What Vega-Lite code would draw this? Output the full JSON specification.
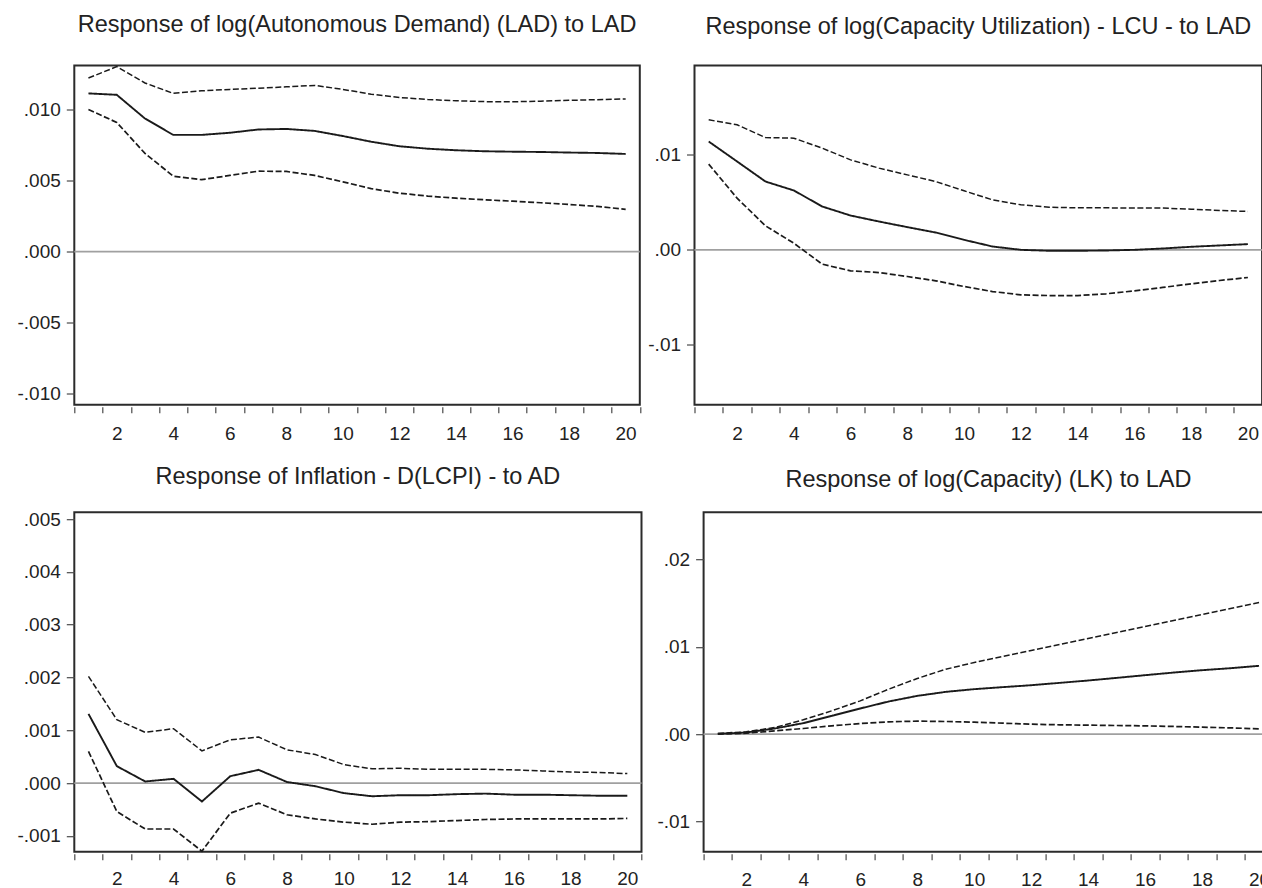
{
  "$schema": "https://vega.github.io/schema/vega-lite/v6.json",
  "background": "white",
  "padding": {"left": 15.3, "top": 11.5, "right": 0, "bottom": 0},
  "config": {
    "font": "Liberation Sans",
    "view": {"stroke": "#2b2b2b", "strokeWidth": 2},
    "axis": {"labelFont": "Liberation Sans", "labelFontSize": 19, "labelColor": "#222", "tickColor": "#4a4a4a", "tickWidth": 1.2, "grid": false, "domain": false},
    "axisX": {"offset": 2, "tickSize": 6, "labelFlush": false, "labelOverlap": false, "labelPadding": 11.5, "labelOffset": 14.2},
    "axisY": {"tickSize": 8, "labelPadding": 6, "labelOverlap": false},
    "title": {"font": "Liberation Sans", "fontSize": 23.5, "fontWeight": "normal", "color": "#222", "anchor": "middle", "frame": "group"}
  },
  "datasets": {
    "lad": [
      {"h": 1, "irf": 0.01112, "lo": 0.00998, "hi": 0.01220},
      {"h": 2, "irf": 0.01102, "lo": 0.00908, "hi": 0.01300},
      {"h": 3, "irf": 0.00935, "lo": 0.00690, "hi": 0.01185},
      {"h": 4, "irf": 0.00820, "lo": 0.00530, "hi": 0.01112},
      {"h": 5, "irf": 0.00820, "lo": 0.00505, "hi": 0.01130},
      {"h": 6, "irf": 0.00835, "lo": 0.00535, "hi": 0.01140},
      {"h": 7, "irf": 0.00858, "lo": 0.00565, "hi": 0.01148},
      {"h": 8, "irf": 0.00862, "lo": 0.00563, "hi": 0.01158},
      {"h": 9, "irf": 0.00848, "lo": 0.00535, "hi": 0.01168},
      {"h": 10, "irf": 0.00812, "lo": 0.00490, "hi": 0.01140},
      {"h": 11, "irf": 0.00772, "lo": 0.00442, "hi": 0.01106},
      {"h": 12, "irf": 0.00740, "lo": 0.00410, "hi": 0.01083},
      {"h": 13, "irf": 0.00723, "lo": 0.00390, "hi": 0.01069},
      {"h": 14, "irf": 0.00712, "lo": 0.00375, "hi": 0.01060},
      {"h": 15, "irf": 0.00705, "lo": 0.00364, "hi": 0.01054},
      {"h": 16, "irf": 0.00702, "lo": 0.00354, "hi": 0.01053},
      {"h": 17, "irf": 0.00700, "lo": 0.00343, "hi": 0.01057},
      {"h": 18, "irf": 0.00696, "lo": 0.00331, "hi": 0.01063},
      {"h": 19, "irf": 0.00693, "lo": 0.00317, "hi": 0.01068},
      {"h": 20, "irf": 0.00686, "lo": 0.00297, "hi": 0.01073}
    ],
    "lcu": [
      {"h": 1, "irf": 0.01140, "lo": 0.00902, "hi": 0.01368},
      {"h": 2, "irf": 0.00930, "lo": 0.00544, "hi": 0.01316},
      {"h": 3, "irf": 0.00719, "lo": 0.00253, "hi": 0.01182},
      {"h": 4, "irf": 0.00625, "lo": 0.00070, "hi": 0.01175},
      {"h": 5, "irf": 0.00456, "lo": -0.00151, "hi": 0.01070},
      {"h": 6, "irf": 0.00361, "lo": -0.00221, "hi": 0.00947},
      {"h": 7, "irf": 0.00298, "lo": -0.00239, "hi": 0.00860},
      {"h": 8, "irf": 0.00239, "lo": -0.00281, "hi": 0.00789},
      {"h": 9, "irf": 0.00182, "lo": -0.00326, "hi": 0.00719},
      {"h": 10, "irf": 0.00105, "lo": -0.00386, "hi": 0.00621},
      {"h": 11, "irf": 0.00035, "lo": -0.00439, "hi": 0.00526},
      {"h": 12, "irf": 0.00000, "lo": -0.00474, "hi": 0.00474},
      {"h": 13, "irf": -0.00010, "lo": -0.00481, "hi": 0.00449},
      {"h": 14, "irf": -0.00010, "lo": -0.00481, "hi": 0.00442},
      {"h": 15, "irf": -0.00007, "lo": -0.00463, "hi": 0.00442},
      {"h": 16, "irf": 0.00000, "lo": -0.00432, "hi": 0.00439},
      {"h": 17, "irf": 0.00014, "lo": -0.00396, "hi": 0.00439},
      {"h": 18, "irf": 0.00032, "lo": -0.00358, "hi": 0.00428},
      {"h": 19, "irf": 0.00046, "lo": -0.00323, "hi": 0.00414},
      {"h": 20, "irf": 0.00060, "lo": -0.00291, "hi": 0.00404}
    ],
    "lcpi": [
      {"h": 1, "irf": 0.00131, "lo": 0.00060, "hi": 0.00202},
      {"h": 2, "irf": 0.00032, "lo": -0.00054, "hi": 0.00120},
      {"h": 3, "irf": 0.00003, "lo": -0.00087, "hi": 0.00096},
      {"h": 4, "irf": 0.00008, "lo": -0.00087, "hi": 0.00103},
      {"h": 5, "irf": -0.00035, "lo": -0.00129, "hi": 0.00061},
      {"h": 6, "irf": 0.00013, "lo": -0.00057, "hi": 0.00082},
      {"h": 7, "irf": 0.00025, "lo": -0.00038, "hi": 0.00087},
      {"h": 8, "irf": 0.00002, "lo": -0.00060, "hi": 0.00063},
      {"h": 9, "irf": -0.00006, "lo": -0.00068, "hi": 0.00054},
      {"h": 10, "irf": -0.00019, "lo": -0.00074, "hi": 0.00035},
      {"h": 11, "irf": -0.00025, "lo": -0.00078, "hi": 0.00027},
      {"h": 12, "irf": -0.00023, "lo": -0.00074, "hi": 0.00028},
      {"h": 13, "irf": -0.00023, "lo": -0.00073, "hi": 0.00026},
      {"h": 14, "irf": -0.00021, "lo": -0.00071, "hi": 0.00026},
      {"h": 15, "irf": -0.00020, "lo": -0.00069, "hi": 0.00026},
      {"h": 16, "irf": -0.00022, "lo": -0.00068, "hi": 0.00025},
      {"h": 17, "irf": -0.00022, "lo": -0.00068, "hi": 0.00023},
      {"h": 18, "irf": -0.00023, "lo": -0.00068, "hi": 0.00021},
      {"h": 19, "irf": -0.00024, "lo": -0.00068, "hi": 0.00020},
      {"h": 20, "irf": -0.00024, "lo": -0.00067, "hi": 0.00018}
    ],
    "lk": [
      {"h": 1, "irf": 0.00004, "lo": 0.00000, "hi": 0.00008},
      {"h": 2, "irf": 0.00019, "lo": 0.00011, "hi": 0.00027},
      {"h": 3, "irf": 0.00065, "lo": 0.00038, "hi": 0.00076},
      {"h": 4, "irf": 0.00126, "lo": 0.00065, "hi": 0.00164},
      {"h": 5, "irf": 0.00210, "lo": 0.00095, "hi": 0.00267},
      {"h": 6, "irf": 0.00294, "lo": 0.00122, "hi": 0.00381},
      {"h": 7, "irf": 0.00374, "lo": 0.00141, "hi": 0.00515},
      {"h": 8, "irf": 0.00438, "lo": 0.00149, "hi": 0.00637},
      {"h": 9, "irf": 0.00484, "lo": 0.00145, "hi": 0.00743},
      {"h": 10, "irf": 0.00515, "lo": 0.00137, "hi": 0.00820},
      {"h": 11, "irf": 0.00538, "lo": 0.00126, "hi": 0.00888},
      {"h": 12, "irf": 0.00560, "lo": 0.00114, "hi": 0.00957},
      {"h": 13, "irf": 0.00587, "lo": 0.00107, "hi": 0.01026},
      {"h": 14, "irf": 0.00614, "lo": 0.00103, "hi": 0.01094},
      {"h": 15, "irf": 0.00644, "lo": 0.00099, "hi": 0.01163},
      {"h": 16, "irf": 0.00675, "lo": 0.00095, "hi": 0.01232},
      {"h": 17, "irf": 0.00705, "lo": 0.00088, "hi": 0.01300},
      {"h": 18, "irf": 0.00732, "lo": 0.00080, "hi": 0.01369},
      {"h": 19, "irf": 0.00755, "lo": 0.00072, "hi": 0.01438},
      {"h": 20, "irf": 0.00782, "lo": 0.00061, "hi": 0.01506}
    ]
  },
  "spacing": 446.7,
  "bounds": "flush",
  "vconcat": [
    {
      "spacing": 54.2,
      "bounds": "flush",
      "hconcat": [
        {
          "width": 565.5,
          "height": 339.2,
          "title": {"text": "Response of log(Autonomous Demand) (LAD) to LAD", "offset": 27},
          "layer": [
            {
              "data": {"values": [{"z": 0}]},
              "mark": {"type": "rule", "color": "#a0a0a0", "strokeWidth": 1.7},
              "encoding": {
                "y": {"field": "z", "type": "quantitative", "scale": {"domain": [-0.01077, 0.01308], "nice": false, "zero": false},
                  "axis": {"title": null, "values": [-0.01, -0.005, 0, 0.005, 0.01], "labelExpr": "(datum.value < 0 ? '-' : '') + replace(format(abs(datum.value), '.3f'), '0.', '.')"}}
              }
            },
            {
              "data": {"name": "lad"},
              "transform": [{"fold": ["lo", "hi", "irf"], "as": ["series", "value"]}],
              "mark": {"type": "line", "color": "#1a1a1a"},
              "encoding": {
                "x": {"field": "h", "type": "quantitative", "scale": {"domain": [0.5, 20.5], "nice": false, "zero": false},
                  "axis": {"title": null, "values": [0.5, 1.5, 2.5, 3.5, 4.5, 5.5, 6.5, 7.5, 8.5, 9.5, 10.5, 11.5, 12.5, 13.5, 14.5, 15.5, 16.5, 17.5, 18.5, 19.5, 20.5], "labelExpr": "datum.value % 2 == 1.5 ? format(datum.value + 0.5, 'd') : ''", "labelOffset": 14.1}},
                "y": {"field": "value", "type": "quantitative", "scale": {"domain": [-0.01077, 0.01308], "nice": false, "zero": false},
                  "axis": {"title": null, "values": [-0.01, -0.005, 0, 0.005, 0.01], "labelExpr": "(datum.value < 0 ? '-' : '') + replace(format(abs(datum.value), '.3f'), '0.', '.')"}},
                "detail": {"field": "series"},
                "strokeDash": {"field": "series", "type": "nominal", "scale": {"domain": ["irf", "lo", "hi"], "range": [[1, 0], [6, 2.5], [6, 2.5]]}, "legend": null},
                "strokeWidth": {"field": "series", "type": "nominal", "scale": {"domain": ["irf", "lo", "hi"], "range": [1.9, 1.5, 1.5]}, "legend": null}
              }
            }
          ]
        },
        {
          "width": 567.6,
          "height": 339.2,
          "title": {"text": "Response of log(Capacity Utilization) - LCU - to LAD", "offset": 27},
          "layer": [
            {
              "data": {"values": [{"z": 0}]},
              "mark": {"type": "rule", "color": "#a0a0a0", "strokeWidth": 1.7},
              "encoding": {
                "y": {"field": "z", "type": "quantitative", "scale": {"domain": [-0.0163, 0.0194], "nice": false, "zero": false},
                  "axis": {"title": null, "values": [-0.01, 0, 0.01], "labelExpr": "(datum.value < 0 ? '-' : '') + replace(format(abs(datum.value), '.2f'), '0.', '.')"}}
              }
            },
            {
              "data": {"name": "lcu"},
              "transform": [{"fold": ["lo", "hi", "irf"], "as": ["series", "value"]}],
              "mark": {"type": "line", "color": "#1a1a1a"},
              "encoding": {
                "x": {"field": "h", "type": "quantitative", "scale": {"domain": [0.5, 20.5], "nice": false, "zero": false},
                  "axis": {"title": null, "values": [0.5, 1.5, 2.5, 3.5, 4.5, 5.5, 6.5, 7.5, 8.5, 9.5, 10.5, 11.5, 12.5, 13.5, 14.5, 15.5, 16.5, 17.5, 18.5, 19.5, 20.5], "labelExpr": "datum.value % 2 == 1.5 ? format(datum.value + 0.5, 'd') : ''", "labelOffset": 14.2}},
                "y": {"field": "value", "type": "quantitative", "scale": {"domain": [-0.0163, 0.0194], "nice": false, "zero": false},
                  "axis": {"title": null, "values": [-0.01, 0, 0.01], "labelExpr": "(datum.value < 0 ? '-' : '') + replace(format(abs(datum.value), '.2f'), '0.', '.')"}},
                "detail": {"field": "series"},
                "strokeDash": {"field": "series", "type": "nominal", "scale": {"domain": ["irf", "lo", "hi"], "range": [[1, 0], [6, 2.5], [6, 2.5]]}, "legend": null},
                "strokeWidth": {"field": "series", "type": "nominal", "scale": {"domain": ["irf", "lo", "hi"], "range": [1.9, 1.5, 1.5]}, "legend": null}
              }
            }
          ]
        }
      ]
    },
    {
      "spacing": 61.3,
      "bounds": "flush",
      "hconcat": [
        {
          "width": 567.2,
          "height": 339.5,
          "title": {"text": "Response of Inflation - D(LCPI) - to AD", "offset": 22},
          "layer": [
            {
              "data": {"values": [{"z": 0}]},
              "mark": {"type": "rule", "color": "#a0a0a0", "strokeWidth": 1.7},
              "encoding": {
                "y": {"field": "z", "type": "quantitative", "scale": {"domain": [-0.0013, 0.00513], "nice": false, "zero": false},
                  "axis": {"title": null, "values": [-0.001, 0, 0.001, 0.002, 0.003, 0.004, 0.005], "labelExpr": "(datum.value < 0 ? '-' : '') + replace(format(abs(datum.value), '.3f'), '0.', '.')"}}
              }
            },
            {
              "data": {"name": "lcpi"},
              "transform": [{"fold": ["lo", "hi", "irf"], "as": ["series", "value"]}],
              "mark": {"type": "line", "color": "#1a1a1a"},
              "encoding": {
                "x": {"field": "h", "type": "quantitative", "scale": {"domain": [0.5, 20.5], "nice": false, "zero": false},
                  "axis": {"title": null, "values": [0.5, 1.5, 2.5, 3.5, 4.5, 5.5, 6.5, 7.5, 8.5, 9.5, 10.5, 11.5, 12.5, 13.5, 14.5, 15.5, 16.5, 17.5, 18.5, 19.5, 20.5], "labelExpr": "datum.value % 2 == 1.5 ? format(datum.value + 0.5, 'd') : ''", "labelOffset": 14.2, "labelPadding": 9.5}},
                "y": {"field": "value", "type": "quantitative", "scale": {"domain": [-0.0013, 0.00513], "nice": false, "zero": false},
                  "axis": {"title": null, "values": [-0.001, 0, 0.001, 0.002, 0.003, 0.004, 0.005], "labelExpr": "(datum.value < 0 ? '-' : '') + replace(format(abs(datum.value), '.3f'), '0.', '.')"}},
                "detail": {"field": "series"},
                "strokeDash": {"field": "series", "type": "nominal", "scale": {"domain": ["irf", "lo", "hi"], "range": [[1, 0], [6, 2.5], [6, 2.5]]}, "legend": null},
                "strokeWidth": {"field": "series", "type": "nominal", "scale": {"domain": ["irf", "lo", "hi"], "range": [1.9, 1.5, 1.5]}, "legend": null}
              }
            }
          ]
        },
        {
          "width": 569.7,
          "height": 339.5,
          "title": {"text": "Response of log(Capacity) (LK) to LAD", "offset": 20.7},
          "layer": [
            {
              "data": {"values": [{"z": 0}]},
              "mark": {"type": "rule", "color": "#a0a0a0", "strokeWidth": 1.7},
              "encoding": {
                "y": {"field": "z", "type": "quantitative", "scale": {"domain": [-0.01345, 0.0254], "nice": false, "zero": false},
                  "axis": {"title": null, "values": [-0.01, 0, 0.01, 0.02], "labelExpr": "(datum.value < 0 ? '-' : '') + replace(format(abs(datum.value), '.2f'), '0.', '.')"}}
              }
            },
            {
              "data": {"name": "lk"},
              "transform": [{"fold": ["lo", "hi", "irf"], "as": ["series", "value"]}],
              "mark": {"type": "line", "color": "#1a1a1a"},
              "encoding": {
                "x": {"field": "h", "type": "quantitative", "scale": {"domain": [0.5, 20.5], "nice": false, "zero": false},
                  "axis": {"title": null, "values": [0.5, 1.5, 2.5, 3.5, 4.5, 5.5, 6.5, 7.5, 8.5, 9.5, 10.5, 11.5, 12.5, 13.5, 14.5, 15.5, 16.5, 17.5, 18.5, 19.5, 20.5], "labelExpr": "datum.value % 2 == 1.5 ? format(datum.value + 0.5, 'd') : ''", "labelOffset": 14.2, "labelPadding": 10.5}},
                "y": {"field": "value", "type": "quantitative", "scale": {"domain": [-0.01345, 0.0254], "nice": false, "zero": false},
                  "axis": {"title": null, "values": [-0.01, 0, 0.01, 0.02], "labelExpr": "(datum.value < 0 ? '-' : '') + replace(format(abs(datum.value), '.2f'), '0.', '.')"}},
                "detail": {"field": "series"},
                "strokeDash": {"field": "series", "type": "nominal", "scale": {"domain": ["irf", "lo", "hi"], "range": [[1, 0], [6, 2.5], [6, 2.5]]}, "legend": null},
                "strokeWidth": {"field": "series", "type": "nominal", "scale": {"domain": ["irf", "lo", "hi"], "range": [1.9, 1.5, 1.5]}, "legend": null}
              }
            }
          ]
        }
      ]
    }
  ]
}
